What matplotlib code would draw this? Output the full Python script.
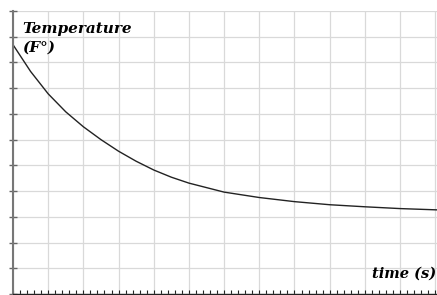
import numpy as np
import matplotlib.pyplot as plt
from matplotlib.ticker import MultipleLocator

# temperature curve (grid units)
time_s = [0, 0.5, 1, 1.5, 2, 2.5, 3, 3.5, 4, 4.5, 5, 6, 7, 8, 9, 10, 11, 12.05]
temp_f = [9.69, 8.65, 7.78, 7.08, 6.50, 6.00, 5.55, 5.16, 4.82, 4.54, 4.31, 3.96, 3.75, 3.59, 3.47, 3.39, 3.32, 3.27]

x_label = 'time (s)'
y_label = ['Temperature', '(F°)']

fig = plt.figure(figsize=(4.37, 2.95), dpi=100)
ax = fig.add_axes([13/437, 1/295, 424/437, 283/295])

ax.plot(time_s, temp_f, color='#222222', lw=1.0)

ax.set_xlim(0, 12.05)
ax.set_ylim(0, 11)
ax.xaxis.set_major_locator(MultipleLocator(1))
ax.xaxis.set_minor_locator(MultipleLocator(0.2))
ax.yaxis.set_major_locator(MultipleLocator(1))
ax.grid(True, which='major', color='#d9d9d9', lw=0.9)
ax.set_axisbelow(True)

for s in ['top', 'right']:
	ax.spines[s].set_visible(False)
ax.spines['left'].set_color('#777777')
ax.spines['left'].set_linewidth(1.5)
ax.spines['bottom'].set_color('#222222')
ax.spines['bottom'].set_linewidth(1.0)

ax.tick_params(axis='x', which='both', direction='in', length=3, width=0.8,
	color='#222222', labelbottom=False)
ax.tick_params(axis='y', direction='inout', length=6, width=1.0,
	color='#666666', labelleft=False)

font = dict(family='DejaVu Serif', style='italic', weight='bold', fontsize=11)
fig.text(22/437, 1 - 33/295, y_label[0], ha='left', va='baseline', **font)
fig.text(22/437, 1 - 52/295, y_label[1], ha='left', va='baseline', **font)
fig.text(436/437, 1 - 278/295, x_label, ha='right', va='baseline',
	**dict(font, fontsize=10.5))

fig.savefig('out.png', dpi=100)
